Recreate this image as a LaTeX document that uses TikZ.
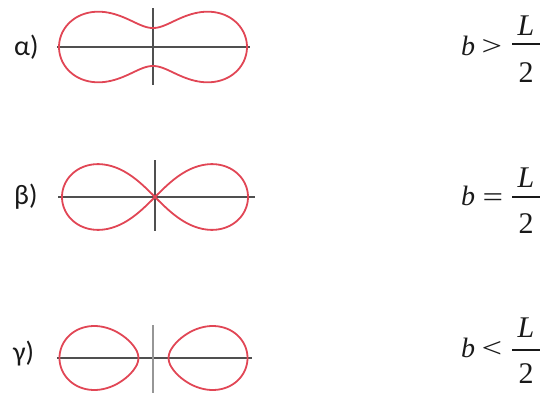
\documentclass[tikz,border=0pt]{standalone}
\usepackage{fontspec}
\setmainfont{Liberation Serif}
\newfontfamily\lblfont{Carlito}
\definecolor{curvered}{RGB}{225,70,85}
\definecolor{axisgray}{RGB}{80,80,80}
\definecolor{axislight}{RGB}{150,150,150}
\definecolor{inkdark}{RGB}{25,25,25}
\begin{document}
\begin{tikzpicture}[x=1pt,y=-1pt,
  curve/.style={draw=curvered, line width=1.8pt, line join=round},
  axis/.style={draw=axisgray, line width=1.1pt},
  axislt/.style={draw=axislight, line width=2.4pt},
  lbl/.style={font=\lblfont\fontsize{28}{28}\selectfont, inner sep=0pt, anchor=west, text=inkdark},
  mth/.style={font=\fontsize{30}{30}\selectfont, inner sep=0pt, anchor=base, text=inkdark},
  mthb/.style={font=\fontsize{28}{28}\selectfont, inner sep=0pt, anchor=base, text=inkdark},
  rel/.style={font=\fontsize{28}{28}\selectfont, inner sep=0pt, anchor=center, text=inkdark, xscale=1.3},
  fbar/.style={draw=inkdark, line width=1.2pt},
  declare function={
    ra(\t)=sqrt(0.4796*cos(2*\t)+sqrt(0.27082-0.23002*pow(sin(2*\t),2)));
    gR(\p)=sqrt(0.50032+0.49968*cos(\p));
    gx(\p)=sqrt((gR(\p)+0.5127+0.4873*cos(\p))/2);
    gy(\p)=0.4873*sin(\p)/(2*gx(\p));
  }]
\useasboundingbox (0,0) rectangle (542,394);

% ---------- row alpha ----------
\coordinate (aL) at (57,47);  \coordinate (aR) at (250,47);
\coordinate (aT) at (153,8);  \coordinate (aB) at (153,85);
\draw[axis] (aL) -- (aR);
\draw[axis] (aT) -- (aB);
\begin{scope}[shift={(153,47)}, scale=94]
  \draw[curve] plot[domain=0:360, samples=241, smooth, variable=\t]
    ({ra(\t)*cos(\t)},{ra(\t)*sin(\t)}) -- cycle;
\end{scope}
\node[lbl] (la) at (14,47.5) {α)};
\node[mthb] (ba) at (468,55) {\itshape b};
\node[rel] (ra) at (492,47) {>};
\node[mth] (La) at (526,35) {\itshape L};
\node[mth] (2a) at (526,82) {2};
\coordinate (fa1) at (512,44); \coordinate (fa2) at (540,44);
\draw[fbar] (fa1) -- (fa2);

% ---------- row beta ----------
\coordinate (bL) at (58,197);  \coordinate (bR) at (255,197);
\coordinate (bT) at (155,160); \coordinate (bB) at (155,231);
\draw[axis] (bL) -- (bR);
\draw[axis] (bT) -- (bB);
\begin{scope}[shift={(155,197)}, scale=93]
  \draw[curve] plot[domain=0:360, samples=241, smooth, variable=\t]
    ({cos(\t)/(1+pow(sin(\t),2))},{sin(\t)*cos(\t)/(1+pow(sin(\t),2))}) -- cycle;
\end{scope}
\node[lbl] (lb) at (14,196.5) {β)};
\node[mthb] (bb) at (468,205) {\itshape b};
\node[rel] (rb) at (493,200) {=};
\node[mth] (Lb) at (526,187) {\itshape L};
\node[mth] (2b) at (526,233) {2};
\coordinate (fb1) at (512,197); \coordinate (fb2) at (540,197);
\draw[fbar] (fb1) -- (fb2);

% ---------- row gamma ----------
\coordinate (cL) at (57,358);  \coordinate (cR) at (252,358);
\coordinate (cT) at (153,325); \coordinate (cB) at (153,393);
\draw[axis] (cL) -- (cR);
\draw[axislt] (cT) -- (cB);
\begin{scope}[shift={(153.5,358)}, scale=94]
  \draw[curve] plot[domain=0:360, samples=241, smooth, variable=\p]
    ({gx(\p)},{gy(\p)}) -- cycle;
  \draw[curve] plot[domain=0:360, samples=241, smooth, variable=\p]
    ({-gx(\p)},{gy(\p)}) -- cycle;
\end{scope}
\node[lbl] (lc) at (13,353.5) {γ)};
\node[mthb] (bc) at (468,357) {\itshape b};
\node[rel] (rc) at (492,349) {<};
\node[mth] (Lc) at (526,337) {\itshape L};
\node[mth] (2c) at (526,383) {2};
\coordinate (fc1) at (512,350); \coordinate (fc2) at (540,350);
\draw[fbar] (fc1) -- (fc2);
\end{tikzpicture}
\end{document}
